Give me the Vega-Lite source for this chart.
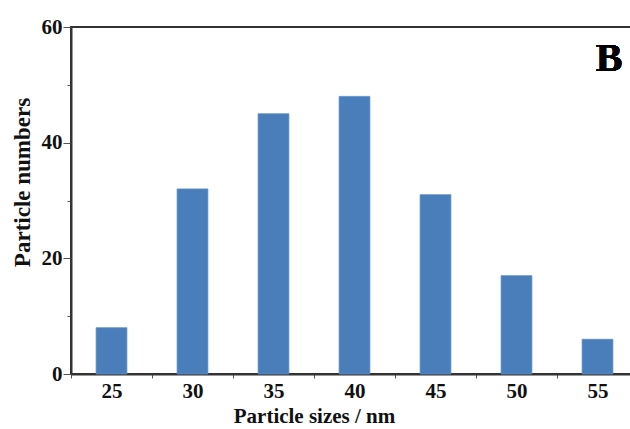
{
  "$schema": "https://vega.github.io/schema/vega-lite/v6.json",
  "autosize": "none",
  "width": 567,
  "height": 347,
  "padding": {"left": 71, "top": 27, "right": 0, "bottom": 55},
  "background": "white",
  "config": {
    "view": {"stroke": "#333333", "strokeWidth": 2},
    "font": "Liberation Serif"
  },
  "data": {
    "values": [
      {"size": "25", "count": 8},
      {"size": "30", "count": 32},
      {"size": "35", "count": 45},
      {"size": "40", "count": 48},
      {"size": "45", "count": 31},
      {"size": "50", "count": 17},
      {"size": "55", "count": 6}
    ]
  },
  "layer": [
    {
      "mark": {"type": "bar", "width": {"band": 0.38}, "color": "#4a7ebb", "stroke": "#5b8cc6", "strokeWidth": 0.8},
      "encoding": {
        "x": {
          "field": "size",
          "type": "ordinal",
          "sort": null,
          "scale": {"paddingInner": 0, "paddingOuter": 0},
          "axis": {
            "title": "Particle sizes / nm",
            "titleFont": "Liberation Serif",
            "titleFontSize": 21,
            "titleFontWeight": "bold",
            "titleColor": "#111111",
            "titleX": 243,
            "titleY": 42,
            "titleAlign": "center",
            "titleBaseline": "middle",
            "labelFont": "Liberation Serif",
            "labelFontSize": 21,
            "labelFontWeight": "bold",
            "labelColor": "#111111",
            "labelAngle": 0,
            "labelPadding": 2,
            "tickBand": "extent",
            "tickSize": 4,
            "tickColor": "#555555",
            "tickWidth": 1,
            "domainColor": "#333333",
            "domainWidth": 2
          }
        },
        "y": {
          "field": "count",
          "type": "quantitative",
          "scale": {"domain": [0, 60]},
          "axis": {
            "title": "Particle numbers",
            "titleFont": "Liberation Serif",
            "titleFontSize": 23,
            "titleFontWeight": "bold",
            "titleColor": "#111111",
            "titleX": -49,
            "titleY": 155,
            "titleAngle": 270,
            "titleAlign": "center",
            "titleBaseline": "middle",
            "values": [0, 10, 20, 30, 40, 50, 60],
            "labelExpr": "datum.value % 20 === 0 ? datum.label : ''",
            "labelFont": "Liberation Serif",
            "labelFontSize": 21,
            "labelFontWeight": "bold",
            "labelColor": "#111111",
            "labelPadding": 1,
            "tickSize": {"condition": {"test": "datum.value % 20 === 0", "value": 8}, "value": 4},
            "tickColor": "#555555",
            "tickWidth": 1,
            "grid": false,
            "domainColor": "#333333",
            "domainWidth": 2
          }
        }
      }
    },
    {
      "mark": {"type": "text", "text": "B", "font": "Liberation Serif", "fontSize": 40, "fontWeight": "bold", "color": "#000000", "dx": 11.5, "baseline": "middle"},
      "encoding": {
        "x": {"datum": "55", "type": "ordinal"},
        "y": {"datum": 54.5, "type": "quantitative"}
      }
    }
  ]
}
